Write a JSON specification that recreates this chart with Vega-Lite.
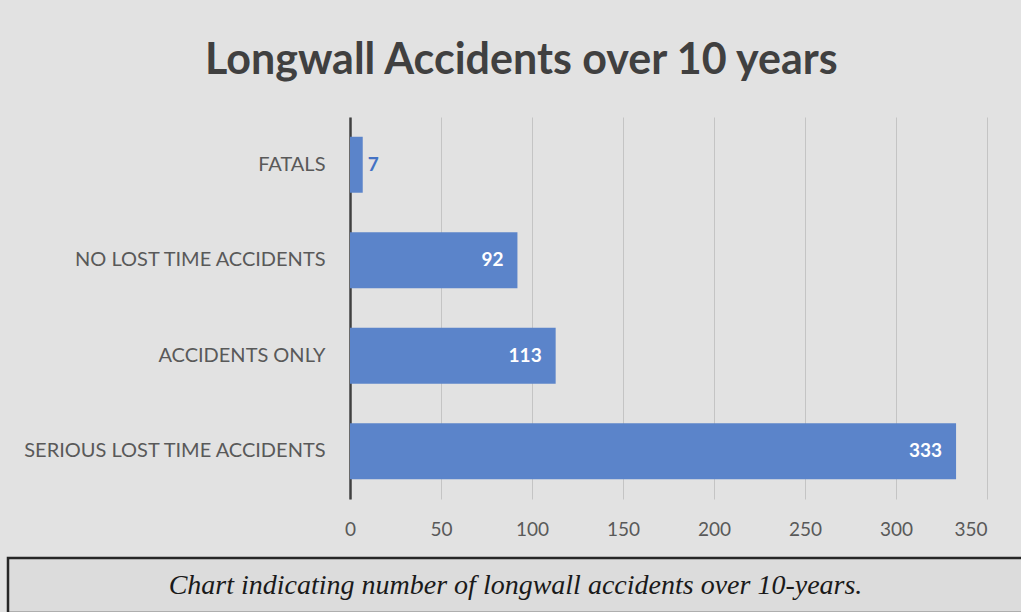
{
  "$schema": "https://vega.github.io/schema/vega-lite/v6.json",
  "background": "#e2e2e2",
  "padding": {"left": 6, "top": 40, "right": 0, "bottom": 0},
  "config": {
    "view": {"stroke": null},
    "font": "Lato"
  },
  "spacing": 17,
  "vconcat": [
    {
      "width": 979,
      "height": 382,
      "title": {
        "text": "Longwall Accidents over 10 years",
        "font": "Lato",
        "fontSize": 43,
        "fontWeight": "bold",
        "color": "#404040",
        "anchor": "start",
        "frame": "group",
        "dx": 197,
        "offset": 34
      },
      "data": {
        "values": [
          {"category": "FATALS", "count": 7},
          {"category": "NO LOST TIME ACCIDENTS", "count": 92},
          {"category": "ACCIDENTS ONLY", "count": 113},
          {"category": "SERIOUS LOST TIME ACCIDENTS", "count": 333}
        ]
      },
      "encoding": {
        "y": {
          "field": "category",
          "type": "nominal",
          "sort": null,
          "scale": {"paddingInner": 0.414, "paddingOuter": 0.207},
          "axis": {
            "title": null,
            "ticks": false,
            "offset": -342,
            "labelPadding": 25,
            "labelFontSize": 20,
            "labelLimit": 0,
            "labelColor": "#595959",
            "domain": true,
            "domainColor": "#404040",
            "domainWidth": 2.5
          }
        }
      },
      "layer": [
        {
          "mark": {"type": "bar", "color": "#5B84CA"},
          "encoding": {
            "x": {
              "field": "count",
              "type": "quantitative",
              "scale": {"domain": [-187.91, 350], "nice": false, "zero": false},
              "axis": {
                "title": null,
                "values": [0, 50, 100, 150, 200, 250, 300, 350],
                "domain": false,
                "ticks": false,
                "grid": true,
                "gridColor": "#c4c4c4",
                "gridWidth": 1,
                "labelPadding": 21,
                "labelFontSize": 19,
                "labelColor": "#595959",
                "zindex": 0
              }
            }
          }
        },
        {
          "transform": [{"filter": "datum.count >= 20"}],
          "mark": {"type": "text", "align": "right", "dx": -14, "fontSize": 19, "fontWeight": "bold", "color": "#ffffff"},
          "encoding": {
            "x": {"field": "count", "type": "quantitative"},
            "text": {"field": "count", "type": "quantitative"}
          }
        },
        {
          "transform": [{"filter": "datum.count < 20"}],
          "mark": {"type": "text", "align": "left", "dx": 5, "fontSize": 19, "fontWeight": "bold", "color": "#4472C4"},
          "encoding": {
            "x": {"field": "count", "type": "quantitative"},
            "text": {"field": "count", "type": "quantitative"}
          }
        }
      ]
    },
    {
      "width": 1015,
      "height": 55,
      "view": {"stroke": "#262626", "strokeWidth": 2.5, "fill": "#dcdcdc"},
      "data": {"values": [{"caption": "Chart indicating number of longwall accidents over 10-years."}]},
      "mark": {"type": "text", "font": "Liberation Serif", "fontStyle": "italic", "fontSize": 28, "color": "#1a1a1a"},
      "encoding": {"text": {"field": "caption", "type": "nominal"}}
    }
  ]
}
